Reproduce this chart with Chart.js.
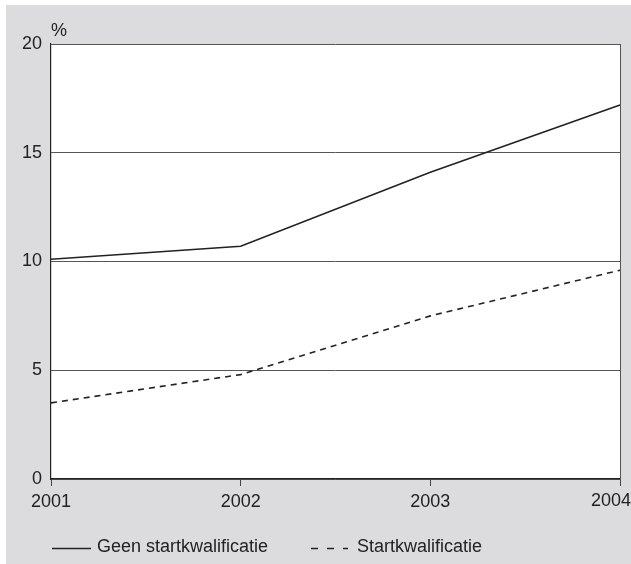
<!DOCTYPE html>
<html>
<head>
<meta charset="utf-8">
<script src="https://cdn.jsdelivr.net/npm/chart.js@4"></script>
<style>
  html, body { margin: 0; padding: 0; background: #fff; }
  #wrap { width: 631px; height: 564px; }
</style>
</head>
<body>
<div id="wrap"><canvas id="grafiek" width="631" height="564"></canvas></div>
<script>
// data
const jaren = ["2001", "2002", "2003", "2004"];
const geenStart = [10.1, 10.7, 14.1, 17.2];
const metStart = [3.5, 4.8, 7.5, 9.6];
const yTicks = [0, 5, 10, 15, 20];

const FONT = "Liberation Sans, Arial, Helvetica, sans-serif";
const INK = "#222";
const TICK_LEN = 7;
const TICK_PAD = 5;

// grijze achtergrond + eenheid + legenda
const achtergrond = {
  id: "achtergrond",
  beforeDraw(chart) {
    const ctx = chart.ctx;
    ctx.save();
    ctx.fillStyle = "#dcdcdf";
    ctx.fillRect(6, 5, chart.width - 6, chart.height - 5);
    const a = chart.chartArea;
    ctx.fillStyle = "#fff";
    ctx.fillRect(a.left, a.top, a.right - a.left, a.bottom - a.top);
    ctx.restore();
  },
  afterDraw(chart) {
    const ctx = chart.ctx;
    const a = chart.chartArea;
    ctx.save();
    // rechterrand
    ctx.strokeStyle = "#555";
    ctx.lineWidth = 1;
    ctx.beginPath();
    ctx.moveTo(a.right + 0.5, a.top);
    ctx.lineTo(a.right + 0.5, a.bottom);
    ctx.stroke();

    ctx.fillStyle = INK;
    ctx.font = "18px " + FONT;

    // laatste jaarlabel tegen de rand
    ctx.textBaseline = "top";
    ctx.textAlign = "right";
    ctx.fillText(jaren[jaren.length - 1], chart.width, a.bottom + TICK_LEN + TICK_PAD + 1);

    ctx.textBaseline = "middle";
    ctx.textAlign = "left";
    ctx.fillText("%", a.left, 31);

    // legenda
    const y = 548.5;
    chart.data.datasets.forEach((ds, i) => {
      const x0 = i === 0 ? 52 : 311;
      ctx.strokeStyle = INK;
      ctx.lineWidth = 1.5;
      ctx.setLineDash(i === 0 ? [] : [7, 9]);
      ctx.beginPath();
      ctx.moveTo(x0, y);
      ctx.lineTo(x0 + (i === 0 ? 39 : 37), y);
      ctx.stroke();
      ctx.setLineDash([]);
      ctx.fillText(ds.label, i === 0 ? 97 : 357, y - 1);
    });
    ctx.restore();
  }
};

new Chart(document.getElementById("grafiek"), {
  type: "line",
  data: {
    labels: jaren,
    datasets: [
      {
        label: "Geen startkwalificatie",
        data: geenStart,
        borderColor: INK,
        borderWidth: 1.6,
        pointRadius: 0,
        tension: 0
      },
      {
        label: "Startkwalificatie",
        data: metStart,
        borderColor: INK,
        borderWidth: 1.6,
        borderDash: [6, 5],
        pointRadius: 0,
        tension: 0
      }
    ]
  },
  options: {
    responsive: false,
    animation: false,
    layout: { padding: { top: 44, right: 11, left: 0, bottom: 0 } },
    plugins: {
      legend: { display: false },
      tooltip: { enabled: false }
    },
    scales: {
      x: {
        type: "category",
        offset: false,
        afterFit: (s) => {
          s.height = 85;
          s.paddingLeft = 0;
          s.paddingRight = 0;
        },
        grid: {
          display: true,
          drawOnChartArea: false,
          drawTicks: true,
          tickLength: TICK_LEN,
          color: "#444"
        },
        border: { display: true, color: INK, width: 1.2 },
        ticks: {
          color: INK,
          font: { size: 18, family: FONT },
          padding: TICK_PAD,
          maxRotation: 0,
          autoSkip: false,
          // laatste label wordt in de plugin rechts uitgelijnd
          callback: (v, i) => (i === jaren.length - 1 ? "" : jaren[i])
        }
      },
      y: {
        min: 0,
        max: 20,
        afterFit: (s) => { s.width = 51; },
        afterBuildTicks: (s) => { s.ticks = yTicks.map((v) => ({ value: v })); },
        grid: {
          color: "#555",
          lineWidth: 1,
          drawTicks: false
        },
        border: { display: true, color: INK, width: 1.2 },
        ticks: {
          color: INK,
          font: { size: 18, family: FONT },
          padding: 9
        }
      }
    }
  },
  plugins: [achtergrond]
});
</script>
</body>
</html>
